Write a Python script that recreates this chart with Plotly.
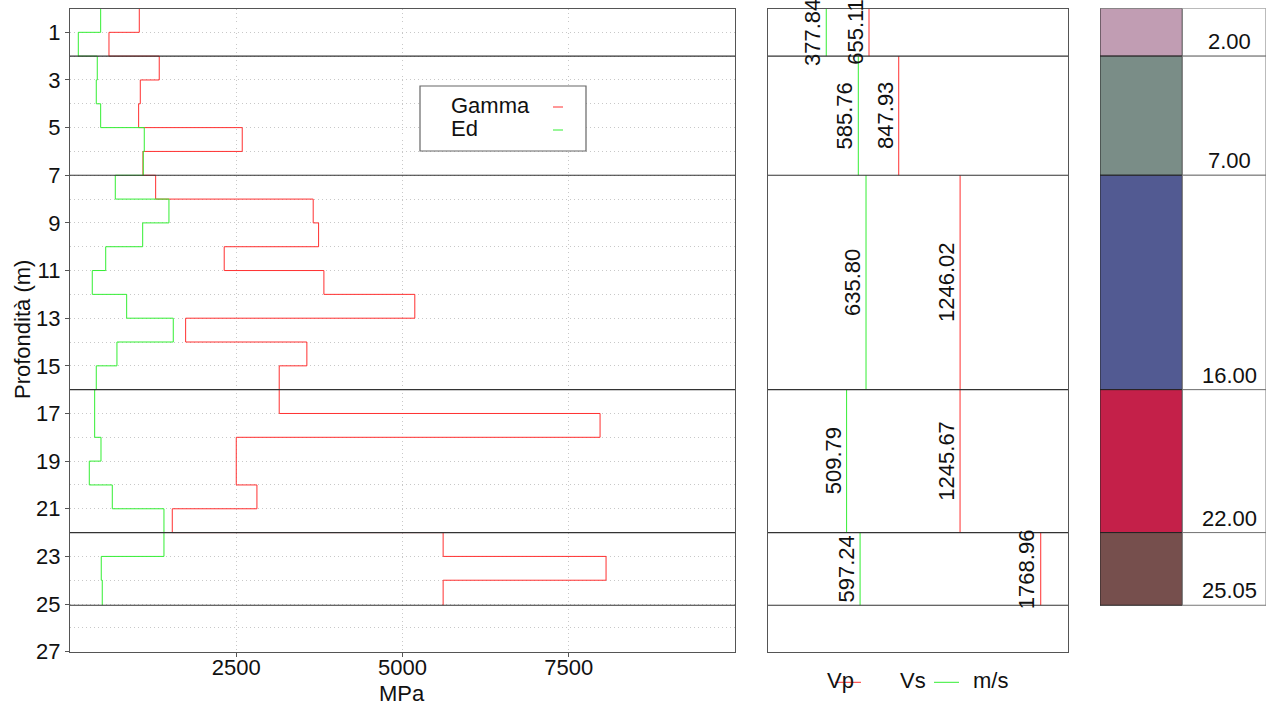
import plotly.graph_objects as go

# ---------------- data ----------------
interval_top = [0, 1, 2, 3, 4, 5, 6, 7, 8, 9, 10, 11, 12, 13, 14, 15, 16, 17, 18, 19, 20, 21, 22, 23, 24]
interval_bottom = [1, 2, 3, 4, 5, 6, 7, 8, 9, 10, 11, 12, 13, 14, 15, 16, 17, 18, 19, 20, 21, 22, 23, 24, 25.05]
gamma = [1042, 586, 1342, 1057, 1032, 2590, 1097, 1288, 3657, 3738, 2319, 3818, 5185,
         1739, 3562, 3146, 3146, 7971, 2500, 2500, 2811, 1538, 5611, 8061, 5611]
ed = [461, 125, 410, 395, 461, 1117, 1102, 681, 1488, 1093, 537, 335, 852,
      1553, 706, 395, 371, 371, 466, 290, 636, 1413, 1413, 470, 485]

layer_bottom = [2.00, 7.00, 16.00, 22.00, 25.05]
vp = [655.11, 847.93, 1246.02, 1245.67, 1768.96]
vs = [377.84, 585.76, 635.80, 509.79, 597.24]
layer_colors = ["#C19DB3", "#7A8D87", "#525A92", "#C42049", "#764F4D"]

x_ticks = [2500, 5000, 7500]
y_ticks = list(range(1, 28, 2))

FONT = "Liberation Sans, Arial, sans-serif"
W, H = 1271, 709
RED = "#ff3030"
GREEN = "#33ee33"


def px(x):
    return x / W


def py(y):
    return 1 - y / H


def steps(vals, tops, bots):
    xs, ys = [], []
    for v, t, b in zip(vals, tops, bots):
        xs += [v, v]
        ys += [t, b]
    return xs, ys


layer_top = [0] + layer_bottom[:-1]

fig = go.Figure()

gx, gy = steps(gamma, interval_top, interval_bottom)
fig.add_trace(go.Scatter(x=gx, y=gy, mode="lines", name="Gamma",
                         line=dict(color=RED, width=1), xaxis="x", yaxis="y"))
ex, ey = steps(ed, interval_top, interval_bottom)
fig.add_trace(go.Scatter(x=ex, y=ey, mode="lines", name="Ed",
                         line=dict(color=GREEN, width=1), xaxis="x", yaxis="y"))


# middle panel vertical lines
def vlines(vals):
    xs, ys = [], []
    for v, t, b in zip(vals, layer_top, layer_bottom):
        xs += [v, v, None]
        ys += [t, b, None]
    return xs, ys


vx, vy = vlines(vp)
fig.add_trace(go.Scatter(x=vx, y=vy, mode="lines", name="Vp",
                         line=dict(color=RED, width=1), xaxis="x2", yaxis="y2"))
sx, sy = vlines(vs)
fig.add_trace(go.Scatter(x=sx, y=sy, mode="lines", name="Vs",
                         line=dict(color=GREEN, width=1), xaxis="x2", yaxis="y2"))

shapes = []
annotations = []

# layer boundary lines on left and middle panels
for b in layer_bottom:
    for xr, yr in (("x domain", "y"), ("x2 domain", "y2")):
        shapes.append(dict(type="line", xref=xr, yref=yr, x0=0, x1=1, y0=b, y1=b,
                           line=dict(color="#333333", width=1.2), layer="above"))

# value labels in middle panel
for vals in (vs, vp):
    for v, t, b in zip(vals, layer_top, layer_bottom):
        annotations.append(dict(xref="x2", yref="y2", x=v, y=(t + b) / 2,
                                text=f"{v:.2f}", textangle=-90, showarrow=False,
                                xanchor="right", yanchor="middle", xshift=1,
                                font=dict(family=FONT, size=22, color="#111")))

# right panel: colored column + depth column
for c, t, b in zip(layer_colors, layer_top, layer_bottom):
    shapes.append(dict(type="rect", xref="x3", yref="y3", x0=0, x1=0.496, y0=t, y1=b,
                       fillcolor=c, line=dict(color="#222222", width=1)))
    shapes.append(dict(type="rect", xref="x3", yref="y3", x0=0.496, x1=1, y0=t, y1=b,
                       fillcolor="white", line=dict(color="#777777", width=1)))
    annotations.append(dict(xref="x3", yref="y3", x=0.78, y=b, text=f"{b:.2f}",
                            showarrow=False, xanchor="center", yanchor="bottom", yshift=0,
                            font=dict(family=FONT, size=22, color="#111")))

# left legend (R-style box)
shapes.append(dict(type="rect", xref="paper", yref="paper", x0=px(420), x1=px(586),
                   y0=py(151), y1=py(86), fillcolor="white",
                   line=dict(color="#666666", width=1.2), layer="above"))
for name, col, yc in (("Gamma", RED, 105), ("Ed", GREEN, 128)):
    annotations.append(dict(xref="paper", yref="paper", x=px(449), y=py(yc), text=name,
                            showarrow=False, xanchor="left", yanchor="middle",
                            height=22, valign="middle",
                            font=dict(family=FONT, size=22, color="#111")))
    shapes.append(dict(type="line", xref="paper", yref="paper", x0=px(553), x1=px(563),
                       y0=py(yc + 2), y1=py(yc + 2), line=dict(color=col, width=1),
                       layer="above"))

# middle panel legend below
for name, xc in (("Vp", 840), ("Vs", 912.5), ("m/s", 990)):
    annotations.append(dict(xref="paper", yref="paper", x=px(xc), y=py(680), text=name,
                            showarrow=False, xanchor="center", yanchor="middle",
                            font=dict(family=FONT, size=22, color="#111")))
shapes.append(dict(type="line", xref="paper", yref="paper", x0=px(835), x1=px(861),
                   y0=py(682.3), y1=py(682.3), line=dict(color=RED, width=1), layer="above"))
shapes.append(dict(type="line", xref="paper", yref="paper", x0=px(934), x1=px(959),
                   y0=py(682.3), y1=py(682.3), line=dict(color=GREEN, width=1), layer="above"))

# axis titles
annotations.append(dict(xref="paper", yref="paper", x=px(23), y=py(330), text="Profondità (m)",
                        textangle=-90, showarrow=False, xanchor="center", yanchor="middle",
                        font=dict(family=FONT, size=22, color="#111")))
annotations.append(dict(xref="paper", yref="paper", x=px(402.5), y=py(693), text="MPa",
                        showarrow=False, xanchor="center", yanchor="middle",
                        font=dict(family=FONT, size=22, color="#111")))

ydom = [py(651.7), py(8.5)]
GRIDC = "#c8c8c8"
grid = dict(showgrid=True, gridcolor=GRIDC, griddash="1px,3px", gridwidth=1)

fig.update_layout(
    width=W, height=H, margin=dict(l=0, r=0, t=0, b=0),
    paper_bgcolor="white", plot_bgcolor="white", showlegend=False,
    font=dict(family=FONT, size=22, color="#111"),
    xaxis=dict(domain=[px(70), px(735)], range=[0, 10000], anchor="y",
               tickvals=x_ticks, ticks="outside", ticklen=4, tickcolor="#555",
               ticklabelstandoff=-8,
               showline=True, linecolor="#555", linewidth=1.3, mirror=True,
               zeroline=False, automargin=False, tickfont=dict(size=22), **grid),
    yaxis=dict(domain=ydom, range=[27, 0], anchor="x",
               tickvals=y_ticks, ticks="outside", ticklen=4, tickcolor="#555",
               showline=True, linecolor="#555", linewidth=1.3, mirror=True,
               zeroline=False, automargin=False, tickfont=dict(size=22),
               minor=dict(dtick=1, tick0=0, ticks="", showgrid=True,
                          gridcolor=GRIDC, griddash="1px,3px"), **grid),
    xaxis2=dict(domain=[px(768), px(1068)], range=[0, 1.1 * max(vp)], anchor="y2",
                showticklabels=False, ticks="", showgrid=False, zeroline=False,
                showline=True, linecolor="#555", linewidth=1.3, mirror=True),
    yaxis2=dict(domain=ydom, range=[27, 0], anchor="x2",
                showticklabels=False, ticks="", showgrid=False, zeroline=False,
                showline=True, linecolor="#555", linewidth=1.3, mirror=True),
    xaxis3=dict(domain=[px(1100), px(1266)], range=[0, 1], anchor="y3",
                visible=False),
    yaxis3=dict(domain=ydom, range=[27, 0], anchor="x3", visible=False),
    shapes=shapes, annotations=annotations,
)

fig.write_html("out.html")
